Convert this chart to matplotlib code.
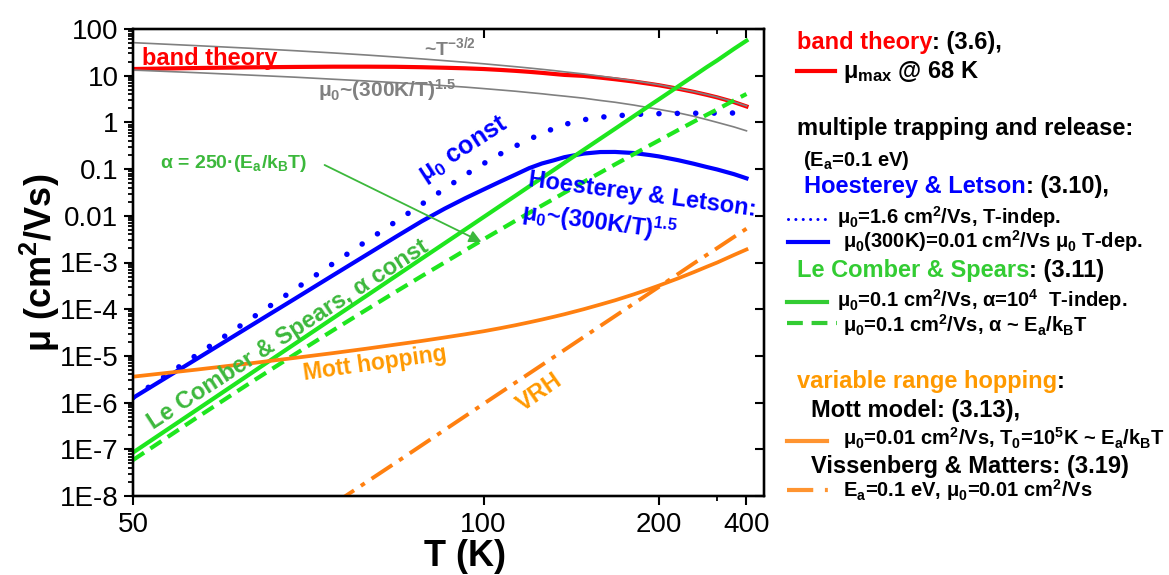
import numpy as np
import matplotlib
matplotlib.use('Agg')
import matplotlib.pyplot as plt
from matplotlib.lines import Line2D
from matplotlib.ticker import FixedLocator, FixedFormatter, NullFormatter, NullLocator, LogLocator

plt.rcParams['font.family'] = ['Liberation Sans', 'DejaVu Sans']
plt.rcParams['mathtext.fontset'] = 'custom'
plt.rcParams['mathtext.rm'] = 'Liberation Sans:bold'
plt.rcParams['mathtext.it'] = 'Liberation Sans:bold:italic'
plt.rcParams['mathtext.bf'] = 'Liberation Sans:bold'

# temperature grid (K)
T = [50, 55, 60, 65, 70, 75, 80, 85, 90, 95, 100, 105, 110, 115, 120, 125, 130, 140, 150,
     160, 175, 190, 200, 225, 250, 275, 300, 350, 400]

# mobilities in cm^2/Vs
mu_band = [13.9, 14.6, 15.1, 15.4, 15.6, 15.6, 15.5, 15.2, 14.8, 14.4, 13.9, 13.3, 12.7, 12.1, 11.5,
           10.9, 10.4, 9.9, 9.1, 8.4, 7.5, 6.7, 6.25, 5.25, 4.5, 3.9, 3.43, 2.72, 2.2]
mu_t32 = [51, 44, 38.7, 34.3, 30.7, 27.7, 25.1, 22.9, 21.0, 19.4, 18.0, 16.7, 15.6, 14.6, 13.7,
          12.9, 12.1, 10.9, 9.8, 8.9, 7.8, 6.9, 6.4, 5.3, 4.55, 3.95, 3.47, 2.75, 2.25]
mu_300 = [13.2, 11.6, 10.3, 9.3, 8.4, 7.7, 7.1, 6.6, 6.1, 5.7, 5.3, 4.95, 4.65, 4.35, 4.1,
          3.85, 3.65, 3.3, 2.95, 2.7, 2.35, 2.05, 1.9, 1.6, 1.35, 1.15, 1.0, 0.8, 0.66]
mu_hl_const = [1.28e-6, 1.05e-5, 6.05e-5, 2.67e-4, 9.57e-4, 2.89e-3, 7.55e-3, 0.0177, 0.0378, 0.0748,
               0.131, 0.211, 0.311, 0.435, 0.578, 0.740, 0.902, 1.14, 1.29, 1.38, 1.47, 1.53, 1.54,
               1.56, 1.57, 1.58, 1.58, 1.59, 1.6]
mu_hl_tdep = [1.26e-6, 8.63e-6, 4.31e-5, 1.67e-4, 5.37e-4, 1.47e-3, 3.55e-3, 7.62e-3, 0.0142, 0.0237,
              0.0366, 0.0540, 0.0762, 0.105, 0.132, 0.154, 0.180, 0.215, 0.232, 0.233, 0.221, 0.200,
              0.187, 0.155, 0.130, 0.111, 0.098, 0.078, 0.0635]
mu_lcs_const = [8.51e-8, 7.01e-7, 4.08e-6, 1.81e-5, 6.48e-5, 1.95e-4, 5.14e-4, 1.21e-3, 2.58e-3, 5.08e-3,
                9.37e-3, 0.0163, 0.0269, 0.0427, 0.0649, 0.0955, 0.137, 0.259, 0.450, 0.729, 1.36, 2.30,
                3.11, 5.93, 9.93, 15.2, 21.3, 37.5, 56.2]
mu_lcs_alpha = [5.89e-8, 4.75e-7, 2.62e-6, 1.08e-5, 3.56e-5, 9.84e-5, 2.37e-4, 5.11e-4, 1.0e-3, 1.83e-3,
                3.13e-3, 5.06e-3, 7.82e-3, 0.0116, 0.0166, 0.0230, 0.0312, 0.0532, 0.0841, 0.126, 0.209,
                0.321, 0.410, 0.689, 1.04, 1.45, 1.90, 2.96, 4.06]
mu_mott = [3.59e-6, 5.09e-6, 6.91e-6, 9.06e-6, 1.15e-5, 1.43e-5, 1.75e-5, 2.09e-5, 2.48e-5, 2.90e-5,
           3.37e-5, 3.92e-5, 4.54e-5, 5.24e-5, 6.01e-5, 6.87e-5, 7.81e-5, 1.0e-4, 1.26e-4, 1.55e-4,
           2.08e-4, 2.72e-4, 3.20e-4, 4.59e-4, 6.23e-4, 8.09e-4, 1.0e-3, 1.45e-3, 1.90e-3]

T_vrh = [70, 80, 90, 100, 120, 150, 200, 250, 300, 400]
mu_vrh = [6.7e-9, 5.2e-8, 2.6e-7, 9.4e-7, 6.4e-6, 4.4e-5, 3.0e-4, 9.6e-4, 2.04e-3, 5.3e-3]

x_ticks = [50, 100, 200, 400]
x_labels = ['50', '100', '200', '400']
y_ticks = [1e-8, 1e-7, 1e-6, 1e-5, 1e-4, 1e-3, 1e-2, 1e-1, 1, 10, 100]
y_labels = ['1E-8', '1E-7', '1E-6', '1E-5', '1E-4', '1E-3', '0.01', '0.1', '1', '10', '100']

RED = '#FF0000'
GRAY = '#808080'
BLUE = '#0000FF'
GREEN = '#1EE61E'
GREEN_TXT = '#3CB83C'
ORANGE = '#FF8010'
ORANGE_TXT = '#FF9900'


def recip(v):
    # 1/T axis: -1/T keeps the scale increasing with T
    v = np.asarray(v, dtype=float)
    with np.errstate(divide='ignore'):
        return -1.0 / v


W, H = 1169, 575
fig = plt.figure(figsize=(W / 100, H / 100), dpi=100)
ax = fig.add_axes([133 / W, 1 - 496 / H, 631 / W, 467 / H])

ax.set_xscale('function', functions=(recip, recip))
ax.set_yscale('log')
ax.set_xlim(50, 500)
ax.set_ylim(1e-8, 100)

ax.plot(T, mu_band, color=RED, lw=3, zorder=2)
ax.plot(T, mu_t32, color=GRAY, lw=1.2, zorder=3)
ax.plot(T, mu_300, color=GRAY, lw=1.2, zorder=3)
ax.plot(T, mu_hl_const, color=BLUE, lw=4, ls=(0, (0.01, 3.3)), dash_capstyle='round', zorder=3)
ax.plot(T, mu_hl_tdep, color=BLUE, lw=3, zorder=3)
ax.plot(T, mu_lcs_const, color=GREEN, lw=3, zorder=3)
ax.plot(T, mu_lcs_alpha, color=GREEN, lw=3, ls=(0, (3.2, 1.8)), zorder=3)
ax.plot(T, mu_mott, color=ORANGE, lw=2.7, zorder=3)
ax.plot(T_vrh, mu_vrh, color=ORANGE, lw=2.8, ls=(0, (6.4, 2.1, 1.2, 2.1)), zorder=3)

# curve labels
ax.text(50.65, 16.9, 'band theory', color=RED, fontsize=17, fontweight='bold', va='baseline')
ax.text(91.2, 41, '~T$^{-3/2}$', color=GRAY, fontsize=14, fontweight='bold', ha='center', va='center')
ax.text(67.9, 5.0, 'μ$_0$~(300K/T)$^{1.5}$', color=GRAY, fontsize=15, fontweight='bold', va='center')
ax.text(52.0, 0.135, 'α = 250·(E$_\\mathrm{a}$/k$_\\mathrm{B}$T)', color=GREEN_TXT, fontsize=14,
        fontweight='bold', va='center')
ax.annotate('', xy=(99.4, 2.75e-3), xytext=(68.8, 0.1225),
            arrowprops=dict(arrowstyle='-|>', color=GREEN_TXT, lw=1.3, mutation_scale=18,
                            shrinkA=0, shrinkB=0))
ax.text(94.6, 0.256, 'μ$_0$ const', color=BLUE, fontsize=18, fontweight='bold', rotation=33,
        ha='center', va='center', rotation_mode='anchor')
ax.text(182.8, 0.0279, 'Hoesterey & Letson:', color=BLUE, fontsize=17, fontweight='bold', rotation=-7.5,
        ha='center', va='center', rotation_mode='anchor')
ax.text(149.4, 7.36e-3, 'μ$_0$~(300K/T)$^{1.5}$', color=BLUE, fontsize=17, fontweight='bold', rotation=-7.5,
        ha='center', va='center', rotation_mode='anchor')
ax.text(64.2, 2.8e-5, 'Le Comber & Spears, α const', color=GREEN_TXT, fontsize=17, fontweight='bold',
        rotation=33, ha='center', va='center', rotation_mode='anchor')
ax.text(76.3, 6.7e-6, 'Mott hopping', color=ORANGE_TXT, fontsize=16.5, fontweight='bold', rotation=8,
        ha='center', va='center', rotation_mode='anchor')
ax.text(119, 1.69e-6, 'VRH', color=ORANGE_TXT, fontsize=17, fontweight='bold', rotation=35,
        ha='center', va='center', rotation_mode='anchor')

# axes, ticks
ax.xaxis.set_major_locator(FixedLocator(x_ticks))
ax.xaxis.set_major_formatter(FixedFormatter(x_labels))
ax.xaxis.set_minor_locator(FixedLocator([300]))
ax.xaxis.set_minor_formatter(NullFormatter())
ax.yaxis.set_major_locator(FixedLocator(y_ticks))
ax.yaxis.set_major_formatter(FixedFormatter(y_labels))
ax.yaxis.set_minor_locator(LogLocator(base=10, subs=np.arange(2, 10), numticks=30))
ax.yaxis.set_minor_formatter(NullFormatter())
ax.tick_params(which='major', direction='out', length=6.5, width=1.5, labelsize=20)
ax.tick_params(which='minor', direction='out', length=3.6, width=1.3)
ax.tick_params(axis='x', pad=5)
ax.tick_params(axis='y', pad=4)
for s in ax.spines.values():
    s.set_linewidth(1.6)

axt = ax.twiny()
axt.set_xscale('function', functions=(recip, recip))
axt.set_xlim(50, 500)
axt.xaxis.set_major_locator(FixedLocator(x_ticks))
axt.xaxis.set_minor_locator(FixedLocator([300]))
axt.xaxis.set_major_formatter(NullFormatter())
axt.xaxis.set_minor_formatter(NullFormatter())
axt.tick_params(which='major', direction='in', length=6.5, width=1.5)
axt.tick_params(which='minor', direction='in', length=3.6, width=1.3)

axr = ax.twinx()
axr.set_yscale('log')
axr.set_ylim(1e-8, 100)
axr.yaxis.set_major_locator(FixedLocator(y_ticks))
axr.yaxis.set_major_formatter(NullFormatter())
axr.yaxis.set_minor_locator(NullLocator())
axr.tick_params(which='major', direction='in', length=6.5, width=1.5)
for a in (axt, axr):
    for s in a.spines.values():
        s.set_linewidth(1.6)

ax.set_ylabel('μ (cm$^2$/Vs)', fontsize=26, fontweight='bold', va='center')
ax.yaxis.set_label_coords(-0.147, 0.5)
ax.set_xlabel('T (K)', fontsize=26, fontweight='bold', va='center')
ax.xaxis.set_label_coords(0.526, -0.13)


# legend block on the right, laid out in figure pixels
def fx(px):
    return px / W


def fy(py):
    return 1 - py / H


def key(x0, x1, y, **kw):
    fig.add_artist(Line2D([fx(x0), fx(x1)], [fy(y), fy(y)], transform=fig.transFigure, **kw))


def head(x, y, parts, size=17):
    prev = None
    for text, color in parts:
        if prev is None:
            prev = fig.text(fx(x), fy(y), text, color=color, fontsize=size, fontweight='bold', va='baseline')
        else:
            prev = ax.annotate(text, xy=(1, 0), xycoords=prev, color=color, fontsize=size,
                               fontweight='bold', va='bottom', ha='left', annotation_clip=False)


SMALL = 14.5
head(797, 49, [('band theory', RED), (': (3.6),', 'black')])
key(797, 835, 71, color=RED, lw=3)
fig.text(fx(843), fy(78), 'μ$_\\mathrm{max}$ @ 68 K', fontsize=17, fontweight='bold', va='baseline')

head(797, 135, [('multiple trapping and release:', 'black')])
fig.text(fx(803), fy(166), '(E$_\\mathrm{a}$=0.1 eV)', fontsize=14.5, fontweight='bold', va='baseline')
head(804, 193, [('Hoesterey & Letson', BLUE), (': (3.10),', 'black')])
key(788, 828, 219, color=BLUE, lw=2.2, ls=(0, (0.01, 2.4)), dash_capstyle='round')
fig.text(fx(837), fy(224), 'μ$_0$=1.6 cm$^2$/Vs, T-indep.', fontsize=SMALL, fontweight='bold', va='baseline')
key(788, 828, 241.7, color=BLUE, lw=3)
fig.text(fx(843), fy(248), 'μ$_0$(300K)=0.01 cm$^2$/Vs μ$_0$ T-dep.', fontsize=SMALL, fontweight='bold',
         va='baseline')
head(797, 277, [('Le Comber & Spears', '#33CC33'), (': (3.11)', 'black')])
key(787, 827, 302, color='#33CC33', lw=3)
fig.text(fx(837), fy(307), 'μ$_0$=0.1 cm$^2$/Vs, α=10$^4$  T-indep.', fontsize=SMALL, fontweight='bold',
         va='baseline')
key(787, 837, 323.3, color='#33CC33', lw=3, ls=(0, (3.8, 2.1)))
fig.text(fx(843), fy(332), 'μ$_0$=0.1 cm$^2$/Vs, α ~ E$_\\mathrm{a}$/k$_\\mathrm{B}$T', fontsize=SMALL,
         fontweight='bold', va='baseline')

head(797, 388, [('variable range hopping', ORANGE_TXT), (':', 'black')])
head(811, 417, [('Mott model: (3.13),', 'black')])
key(787, 827, 440.7, color='#FF9430', lw=3)
fig.text(fx(843), fy(445), 'μ$_0$=0.01 cm$^2$/Vs, T$_0$=10$^5$K ~ E$_\\mathrm{a}$/k$_\\mathrm{B}$T',
         fontsize=SMALL, fontweight='bold', va='baseline')
head(811, 473, [('Vissenberg & Matters: (3.19)', 'black')])
key(787, 829, 490, color='#FF9430', lw=3, ls=(0, (6.3, 2.8, 0.7, 2.8)))
fig.text(fx(843), fy(497), 'E$_\\mathrm{a}$=0.1 eV, μ$_0$=0.01 cm$^2$/Vs', fontsize=SMALL, fontweight='bold',
         va='baseline')

fig.savefig('out.png', dpi=100)
